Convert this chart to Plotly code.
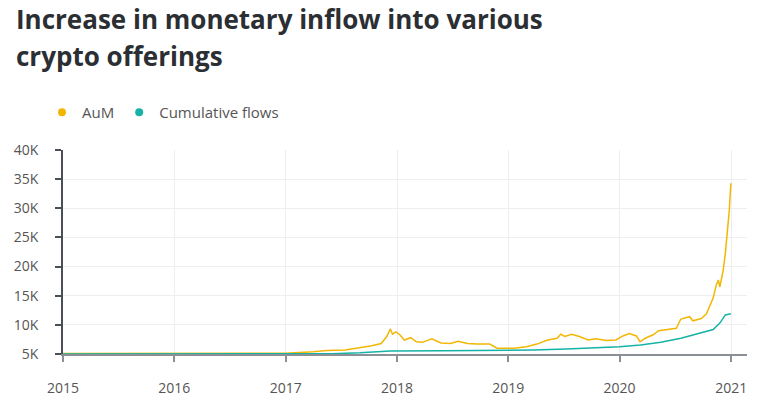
import plotly.graph_objects as go

# AuM (assets under management)
aum_dates = [
    "2015-01-01", "2015-06-01", "2016-01-01", "2016-06-01", "2016-09-01",
    "2017-01-01", "2017-04-01", "2017-05-15", "2017-07-15", "2017-09-01",
    "2017-10-10", "2017-11-10", "2017-11-28", "2017-12-10", "2017-12-17",
    "2017-12-28", "2018-01-10", "2018-01-25", "2018-02-15", "2018-03-05",
    "2018-03-25", "2018-04-25", "2018-05-25", "2018-06-25", "2018-07-20",
    "2018-08-20", "2018-09-20", "2018-11-01", "2018-11-25", "2018-12-28",
    "2019-01-20", "2019-03-01", "2019-04-05", "2019-05-10", "2019-06-10",
    "2019-06-22", "2019-07-05", "2019-07-28", "2019-08-22", "2019-09-20",
    "2019-10-15", "2019-11-18", "2019-12-20", "2020-01-12", "2020-02-02",
    "2020-02-25", "2020-03-08", "2020-03-25", "2020-04-20", "2020-05-08",
    "2020-06-03", "2020-07-05", "2020-07-20", "2020-08-18", "2020-08-28",
    "2020-09-25", "2020-10-12", "2020-10-25", "2020-11-03", "2020-11-13",
    "2020-11-20", "2020-11-25", "2020-12-01", "2020-12-06", "2020-12-13",
    "2020-12-20", "2020-12-26", "2020-12-31",
]
aum_values = [
    5100, 5100, 5100, 5150, 5100,
    5150, 5400, 5600, 5700, 6100,
    6400, 6800, 8000, 9300, 8400,
    8800, 8300, 7400, 7800, 7100,
    7000, 7600, 6900, 6800, 7200,
    6800, 6700, 6700, 6000, 6000,
    6000, 6250, 6700, 7400, 7700,
    8400, 8000, 8400, 8000, 7400,
    7600, 7300, 7400, 8100, 8500,
    8100, 7100, 7700, 8300, 9000,
    9200, 9400, 11000, 11400, 10700,
    11100, 11900, 13400, 14600, 16800,
    17700, 16500, 18000, 19400, 22300,
    25700, 29700, 34300,
]

# cumulative flows
flow_dates = [
    "2015-01-01", "2016-06-01", "2017-06-01", "2017-09-01", "2017-12-10",
    "2018-06-01", "2018-12-31", "2019-03-25", "2019-07-10", "2019-10-30",
    "2020-01-01", "2020-03-10", "2020-05-15", "2020-07-20", "2020-10-01",
    "2020-11-03", "2020-11-25", "2020-12-13", "2020-12-31",
]
flow_values = [
    5000, 5000, 5050, 5200, 5500,
    5550, 5600, 5700, 5850, 6100,
    6250, 6550, 7000, 7700, 8700,
    9200, 10300, 11700, 11900,
]

title_lines = ["Increase in monetary inflow into various", "crypto offerings"]
y_ticks = [5000, 10000, 15000, 20000, 25000, 30000, 35000, 40000]
y_labels = ["5K", "10K", "15K", "20K", "25K", "30K", "35K", "40K"]
x_ticks = ["2015-01-01", "2016-01-01", "2017-01-01", "2018-01-01",
           "2019-01-01", "2020-01-01", "2021-01-01"]
x_labels = ["2015", "2016", "2017", "2018", "2019", "2020", "2021"]

AUM_COLOR = "#f2b705"
FLOW_COLOR = "#16b2a6"
FONT = "Open Sans"
W, H = 758, 409
ML, MR, MT, MB = 63, 11, 150, 55
PW, PH = W - ML - MR, H - MT - MB

fig = go.Figure()
fig.add_trace(go.Scatter(x=aum_dates, y=aum_values, mode="lines",
                         line=dict(color=AUM_COLOR, width=1.5),
                         name="AuM", showlegend=False))
fig.add_trace(go.Scatter(x=flow_dates, y=flow_values, mode="lines",
                         line=dict(color=FLOW_COLOR, width=1.5),
                         name="Cumulative flows", showlegend=False))
# legend entries drawn as dots
fig.add_trace(go.Scatter(x=[None], y=[None], mode="markers", name="AuM",
                         marker=dict(color=AUM_COLOR, size=8)))
fig.add_trace(go.Scatter(x=[None], y=[None], mode="markers", name="Cumulative flows",
                         marker=dict(color=FLOW_COLOR, size=8)))

# title as two annotations (pixel placement)
for i, line in enumerate(title_lines):
    top_px = -1 + i * 37
    fig.add_annotation(text=line, showarrow=False,
                       xref="paper", yref="paper",
                       x=(14 - ML) / PW, xanchor="left",
                       y=(H - MB - top_px) / PH, yanchor="top",
                       font=dict(family=FONT, size=26, color="#2b2f33", weight=700))

fig.update_layout(
    width=W, height=H,
    margin=dict(l=ML, r=MR, t=MT, b=MB, autoexpand=False),
    paper_bgcolor="white", plot_bgcolor="white",
    font=dict(family=FONT, color="#555"),
    legend=dict(orientation="h", xref="container", yref="container",
                x=42 / W, xanchor="left", y=1 - 96 / H, yanchor="top",
                font=dict(size=15, color="#555"), itemwidth=30),
    hovermode=False,
)
fig.update_xaxes(
    type="date", range=["2015-01-01", "2021-02-22"],
    tickvals=x_ticks, ticktext=x_labels,
    tickfont=dict(size=14, color="#555"),
    showgrid=True, gridcolor="#eeeeee", gridwidth=1,
    showline=True, linecolor="#8a9096", linewidth=2,
    ticks="outside", ticklen=6, tickcolor="#8a9096", tickwidth=2,
    ticklabelstandoff=14, zeroline=False, automargin=False,
)
fig.update_yaxes(
    range=[5000, 40000], tickvals=y_ticks, ticktext=y_labels,
    tickfont=dict(size=14, color="#555"),
    showgrid=True, gridcolor="#eeeeee", gridwidth=1,
    showline=True, linecolor="#4a4f55", linewidth=1.5,
    ticks="outside", ticklen=6, tickcolor="#4a4f55", tickwidth=1.5,
    ticklabelstandoff=14, zeroline=False, automargin=False,
)

# drop the default page margin so the chart sits at the window's corner
fig.write_html("out.html", config={"displayModeBar": False},
               post_script="document.body.style.margin='0';")
